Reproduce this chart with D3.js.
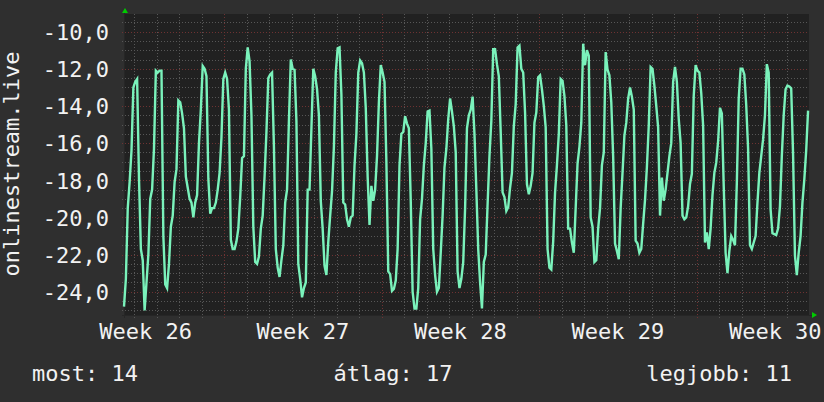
<!DOCTYPE html>
<html>
<head>
<meta charset="utf-8">
<script src="https://cdn.jsdelivr.net/npm/d3@7"></script>
<style>
  body { margin: 0; background: #2f2f2f; }
  svg { display: block; }
</style>
</head>
<body>
<svg id="chart"></svg>
<script>
// one reading every 2 hours, starting at the left edge of the plot
const stepHours = 2;
const values = [
  -24.8, -23.3, -19.5, -18.1, -16.4, -13, -12.7, -12.55, -17.9, -21.7,
  -22.3, -25.0, -23.5, -22, -19, -18.5, -16.3, -12.1, -12.2, -12.1,
  -12.1, -21, -23.6, -23.8, -22.5, -20.5, -19.9, -18.1, -17.4, -13.7,
  -13.8, -14.4, -15.2, -17.8, -18.4, -19, -19.2, -20, -19.2, -18.8,
  -16, -14.2, -11.85, -12, -12.4, -17.9, -19.8, -19.5, -19.5, -19.2,
  -18.5, -17.6, -15.7, -12.55, -12.2, -12.55, -14.2, -21.2, -21.7, -21.7,
  -21.3, -20.6,
  -18.9, -16.8, -16.7, -12, -10.85, -11.6, -14.5, -20.5, -22.4, -22.5,
  -22.1, -20.6, -19.9, -17.8, -15.4, -12.5, -12.3, -12.2, -16.2, -21.7,
  -22.7, -23.2, -22.3, -21.5, -19.2, -18.5, -14.8, -11.5, -12, -12.05,
  -14.8, -22.5, -23.3, -24.3, -23.8, -23.5, -18.5, -18.5, -15.2, -12,
  -12.4, -13.1, -14.5, -19.1, -20.6, -22.6, -23.1, -21.3, -19.9, -18.6,
  -16.2, -12.2, -10.9, -10.85, -13.4, -19.2, -19.3, -20.1, -20.5, -20,
  -19.9, -17.2, -15.5, -12.2, -11.55, -11.7, -12.2, -14.1, -17.8, -20.4,
  -18.3, -19.1, -18.5, -16.7, -13.8, -11.8, -12.2, -12.7, -17, -22.9,
  -23.05, -23.95, -23.85, -23.4, -21.7, -17.2, -15.5, -15.4, -14.55, -14.95,
  -15.2, -19.1, -24, -24.9, -24.9, -23.8, -20.1, -19, -17.2, -16,
  -14.3, -14.25, -16.3, -21.7, -23.1, -24, -23.8, -21.9, -19.9, -17.3,
  -16.3, -14.7, -13.6, -14.3, -15.1, -16.5, -22.9, -23.8, -23.3, -22.4,
  -19.5, -15.2, -14.5,
  -14.2, -13.5, -15.5, -18.5, -21.7, -23.5, -24.9, -22.4, -22, -19.3,
  -16.7, -14.8, -10.95, -10.95, -11.75, -12.4, -15.4, -18.65, -18.9, -19.65,
  -19.45, -18.4, -17.6, -15.1, -13.9, -10.85, -10.75, -12, -12.2, -14.35,
  -18.2, -18.75, -18.3, -17.6, -14.9, -14.35, -12.45, -12.35, -13.1, -14,
  -15.15, -21.7, -22.7, -22.8, -21.3, -18.65, -17.2, -15.5, -12.55, -12.65,
  -13.45, -15.05, -20.6, -20.6, -21.35, -21.9, -19.5, -17.1, -16.2, -14.9, -10.65,
  -11.8, -11, -11.3, -20, -20.5, -22.4, -22.3, -20.6, -19.5, -17.2,
  -16.5, -11.1, -12.05, -12.35, -13.8, -16.7, -21.4, -21.8, -22.25, -19.5,
  -17.6, -15.6, -14.9, -13.6, -13, -13.5, -14.2, -21.25, -21.4, -21.9,
  -21.7, -20.35, -19.05, -17.3, -15.05, -11.9, -12, -12.9, -14, -15.15,
  -19.9, -17.85, -19.1, -18.5, -17.6, -16.7, -16, -12.7, -11.9, -12.7,
  -14.7, -16, -19.9, -20.1, -20, -19.4, -18.2, -17.65, -13.45, -11.8, -12.1,
  -12.2, -13.3, -15.05, -21.35, -20.8, -21.7, -20.6, -18.8, -17.6, -17.05,
  -15.9, -14.1, -14.4, -18.3, -21.9, -23, -21.8, -21, -21.2, -21.5,
  -18.1, -13.6, -12, -12, -12.3, -13.95, -16.3, -21.5, -21.7, -21.35,
  -21, -19.2, -17.6, -16.7, -15.8, -14.5, -11.75, -12.2, -19.55, -20.85,
  -20.9, -20.95, -20.6, -19.4, -16.7, -14.5, -13.1, -12.9, -12.95, -13.05,
  -16.6, -22.05, -23.1, -21.9, -21, -19.2, -17.95, -16.4, -14.25
];

const yLabels = [-10, -12, -14, -16, -18, -20, -22, -24];
const weekLabels = ["Week 26", "Week 27", "Week 28", "Week 29", "Week 30"];
const weekStarts = [-61, 107, 275, 443, 611]; // hours from the left edge
const firstMidnight = 11;
const legendTexts = ["most: 14", "átlag: 17", "legjobb: 11"];
const axisTitle = "onlinestream.live";

const width = 824, height = 402;
const plot = { left: 124, right: 809, top: 14, bottom: 315 };
const font = "'DejaVu Sans Mono', monospace";

const svg = d3.select("#chart").attr("width", width).attr("height", height);
svg.append("rect").attr("width", width).attr("height", height).attr("fill", "#2f2f2f");
svg.append("rect")
    .attr("x", plot.left).attr("y", plot.top)
    .attr("width", plot.right - plot.left).attr("height", plot.bottom - plot.top)
    .attr("fill", "#212121");

const x = d3.scaleLinear().domain([0, 731]).range([plot.left, plot.right]);
const y = d3.scaleLinear().domain([-25.25, -9.05]).range([plot.bottom, plot.top]);

const grid = svg.append("g").attr("shape-rendering", "crispEdges");
const greyGrid = "#575757", redGrid = "#6e3232";

// minor horizontal grid every 0.5
const minorY = d3.range(-25, -9.4, 0.5).filter(v => v % 2 !== 0);
grid.selectAll(".hminor").data(minorY).join("line")
    .attr("x1", plot.left - 2).attr("x2", plot.right)
    .attr("y1", d => Math.round(y(d)) + 0.5).attr("y2", d => Math.round(y(d)) + 0.5)
    .attr("stroke", greyGrid).attr("stroke-dasharray", "1,2");

// day lines
const days = d3.range(firstMidnight, 731, 24).filter(h => !weekStarts.includes(h));
grid.selectAll(".vminor").data(days).join("line")
    .attr("x1", d => Math.round(x(d)) + 0.5).attr("x2", d => Math.round(x(d)) + 0.5)
    .attr("y1", plot.top).attr("y2", plot.bottom + 3)
    .attr("stroke", greyGrid).attr("stroke-dasharray", "1,2");

// major grid
grid.selectAll(".hmajor").data(yLabels).join("line")
    .attr("x1", plot.left - 2).attr("x2", plot.right)
    .attr("y1", d => Math.round(y(d)) + 0.5).attr("y2", d => Math.round(y(d)) + 0.5)
    .attr("stroke", redGrid).attr("stroke-dasharray", "1,2");

grid.selectAll(".vmajor").data(weekStarts.filter(h => h > 0 && h < 731)).join("line")
    .attr("x1", d => Math.round(x(d)) + 0.5).attr("x2", d => Math.round(x(d)) + 0.5)
    .attr("y1", plot.top).attr("y2", plot.bottom + 4)
    .attr("stroke", redGrid).attr("stroke-dasharray", "1,2");

// axes
svg.append("line")
    .attr("x1", plot.left - 2).attr("x2", plot.right + 3)
    .attr("y1", plot.bottom + 0.5).attr("y2", plot.bottom + 0.5)
    .attr("stroke", "#262626");
svg.append("line")
    .attr("x1", plot.left + 0.5).attr("x2", plot.left + 0.5)
    .attr("y1", plot.top - 2).attr("y2", plot.bottom + 3)
    .attr("stroke", "#262626");
svg.append("path")
    .attr("d", `M${plot.left - 2},13 L${plot.left + 4},13 L${plot.left + 1},8 Z`)
    .attr("fill", "#00cc00");
svg.append("path")
    .attr("d", `M${plot.right + 3},312 L${plot.right + 3},318 L${plot.right + 8},315 Z`)
    .attr("fill", "#00cc00");

// data line
const line = d3.line()
    .x((d, i) => x(i * stepHours))
    .y(d => y(d));

svg.append("path")
    .datum(values)
    .attr("d", line)
    .attr("fill", "none")
    .attr("stroke", "#7af2bb")
    .attr("stroke-width", 2.4)
    .attr("stroke-linejoin", "miter");

// y labels
svg.selectAll(".ylab").data(yLabels).join("text")
    .attr("x", 109).attr("y", d => y(d) + 8.3)
    .attr("text-anchor", "end")
    .attr("font-family", font).attr("font-size", 22)
    .attr("fill", "#f2f2f2")
    .text(d => d3.format(".1f")(d).replace("−", "-").replace(".", ","));

// week labels
svg.selectAll(".xlab").data(weekLabels).join("text")
    .attr("x", (d, i) => x(weekStarts[i] + 84))
    .attr("y", 339)
    .attr("text-anchor", "middle")
    .attr("font-family", font).attr("font-size", 22)
    .attr("fill", "#f2f2f2")
    .text(d => d);

// vertical title
svg.append("text")
    .attr("transform", "translate(19,164) rotate(-90)")
    .attr("text-anchor", "middle")
    .attr("font-family", font).attr("font-size", 22)
    .attr("fill", "#f2f2f2")
    .text(axisTitle);

// legend line
const legendX = [32, 393, 792];
const legendAnchor = ["start", "middle", "end"];
svg.selectAll(".leg").data(legendTexts).join("text")
    .attr("x", (d, i) => legendX[i])
    .attr("y", 380.5)
    .attr("text-anchor", (d, i) => legendAnchor[i])
    .attr("font-family", font).attr("font-size", 22)
    .attr("fill", "#f2f2f2")
    .text(d => d);
</script>
</body>
</html>
